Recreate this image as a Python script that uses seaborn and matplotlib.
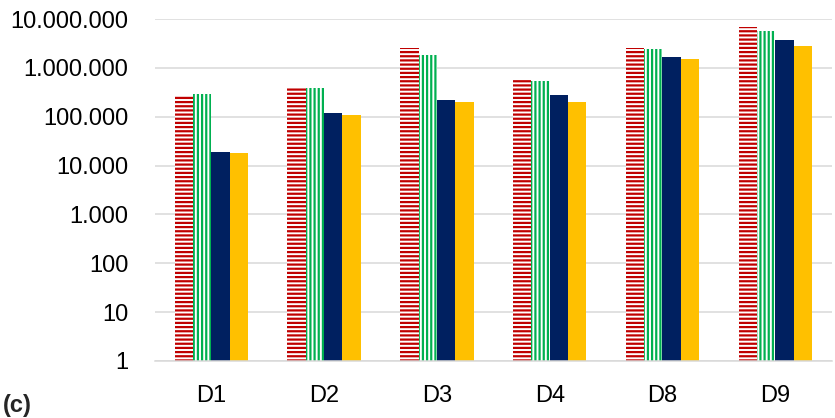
import matplotlib
matplotlib.use('Agg')
import matplotlib.pyplot as plt
from matplotlib.ticker import FuncFormatter, FixedLocator, NullLocator
import seaborn as sns
import pandas as pd

# values (log scale)
datasets = ['D1', 'D2', 'D3', 'D4', 'D8', 'D9']
series_names = ['S1', 'S2', 'S3', 'S4']
s1 = [275000, 400000, 2500000, 585000, 2500000, 6800000]
s2 = [290000, 383000, 1800000, 535000, 2400000, 5600000]
s3 = [18700, 118000, 218000, 275000, 1650000, 3650000]
s4 = [17800, 107000, 198000, 198000, 1500000, 2750000]
y_ticks = [1, 10, 100, 1000, 10000, 100000, 1000000, 10000000]

colors = ['#C00000', '#00B050', '#002060', '#FFC000']
hatches = ['----', '||||', None, None]

rows = []
for name, vals in zip(series_names, [s1, s2, s3, s4]):
    for d, v in zip(datasets, vals):
        rows.append({'dataset': d, 'series': name, 'value': v})
df = pd.DataFrame(rows)

sns.set_style('white')
plt.rcParams['font.family'] = ['Liberation Sans', 'DejaVu Sans']
plt.rcParams['hatch.linewidth'] = 1.6

fig = plt.figure(figsize=(8.35, 4.18), dpi=100)
ax = fig.add_axes([0.1856, 0.1364, 0.8104, 0.8181])

sns.barplot(data=df, x='dataset', y='value', hue='series', order=datasets,
            hue_order=series_names, palette=colors, width=0.65, gap=0,
            legend=False, ax=ax)
ax.set_yscale('log')

for cont, col, h in zip(ax.containers, colors, hatches):
    for bar in cont:
        bar.set_linewidth(0)
        bar.set_edgecolor(col)
        if h:
            bar.set_facecolor('white')
            bar.set_hatch(h)
        else:
            bar.set_facecolor(col)

ax.set_ylim(1, 10000000)
ax.set_xlim(-0.5, 5.5)
ax.yaxis.set_major_locator(FixedLocator(y_ticks))
ax.yaxis.set_minor_locator(NullLocator())
ax.yaxis.set_major_formatter(FuncFormatter(lambda v, p: f'{int(round(v)):,}'.replace(',', '.')))
ax.grid(axis='y', color='#d9d9d9', linewidth=1.1)
ax.set_axisbelow(True)
for s in ['top', 'right', 'left']:
    ax.spines[s].set_visible(False)
ax.spines['bottom'].set_color('#d9d9d9')
ax.spines['bottom'].set_linewidth(1.1)
ax.tick_params(axis='both', length=0, labelsize=17, colors='black')
ax.tick_params(axis='y', pad=19)
ax.tick_params(axis='x', pad=17)
ax.set_xlabel('')
ax.set_ylabel('')

fig.text(0.004, 0.03, '(c)', fontsize=17, fontweight='bold', ha='left', va='center')

fig.savefig('out.png', dpi=100)
plt.close(fig)
